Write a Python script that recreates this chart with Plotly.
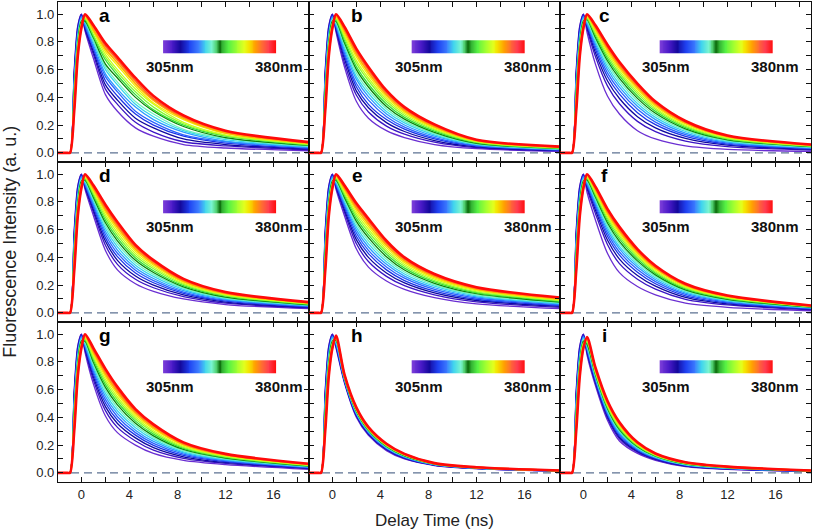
import plotly.graph_objects as go
from plotly.subplots import make_subplots

# ---------------- data ----------------
PANEL_LABELS = ["a", "b", "c", "d", "e", "f", "g", "h", "i"]
WAVELENGTHS = [305, 310, 315, 320, 325, 330, 335, 340, 345, 350, 355, 360, 365, 370, 375, 380]
BAR_LABELS = ["305nm", "380nm"]

# rising edge, shared by all panels (values in %, one entry per wavelength)
RISE_T = [-2.0, -1.15, -0.95, -0.6, -0.3, 0.0]
RISE = [
    [0] * 16,
    [0] * 16,
    [0] * 16,
    [60, 58, 56, 54, 52, 50, 48, 46, 44, 42, 40, 38, 36, 34, 32, 30],
    [92, 91, 89, 88, 86, 85, 83, 82, 80, 79, 77, 76, 74, 73, 71, 70],
    [100, 100, 99, 99, 98, 98, 97, 96, 95, 94, 93, 93, 92, 91, 90, 90],
]

# decay part: one row per delay time, 16 values (305 -> 380 nm), in %
DECAY_T = [0.3, 1, 2, 3, 4.5, 6, 8.5, 12, 19]

PANEL_A = [
    [88, 89, 90, 91, 92, 93, 94, 95, 95, 96, 97, 97, 98, 99, 99, 100],
    [68, 71, 73, 75, 76, 78, 80, 81, 83, 84, 85, 87, 88, 89, 91, 92],
    [42, 46, 49, 52, 55, 57, 60, 62, 64, 67, 69, 71, 73, 75, 77, 79],
    [30, 35, 38, 41, 44, 46, 49, 51, 54, 56, 58, 60, 63, 65, 67, 69],
    [18, 22, 25, 28, 30, 33, 35, 37, 40, 42, 44, 46, 48, 50, 52, 54],
    [12, 15, 18, 20, 22, 24, 26, 28, 30, 31, 33, 35, 36, 38, 39, 41],
    [6, 8, 10, 12, 13, 15, 16, 17, 19, 20, 21, 22, 24, 25, 26, 27],
    [3.5, 5, 6, 7, 8, 8.5, 9.5, 10.5, 11, 12, 12.5, 13, 14, 14.5, 15.5, 16],
    [1.5, 2.2, 2.7, 3.2, 3.7, 4.1, 4.5, 4.9, 5.3, 5.6, 6, 6.3, 6.7, 7, 7.4, 7.7],
]
PANEL_B = [
    [87, 88.5, 89.5, 90.5, 91.5, 92.5, 93, 94, 95, 95.5, 96.5, 97, 98, 98.5, 99.5, 100],
    [62, 65, 68, 70, 72, 74, 76, 78, 79.5, 81, 83, 84.5, 86, 88, 89.5, 91],
    [37, 41.5, 44.5, 47.5, 50, 53, 55, 57.5, 60, 62, 64.5, 66.5, 69, 71, 73, 75],
    [25, 29.5, 32.5, 35, 38, 40.5, 43, 45, 47.5, 49.5, 52, 54, 56, 58, 60, 62],
    [16, 19.3, 21.8, 24, 26.1, 28, 29.9, 31.7, 33.5, 35.3, 37, 38.6, 40.2, 41.9, 43.4, 45],
    [11, 13.5, 15.4, 17.1, 18.6, 20.1, 21.6, 22.9, 24.3, 25.6, 26.9, 28.2, 29.4, 30.6, 31.8, 33],
    [6, 7.7, 8.9, 10, 11, 12, 13, 13.9, 14.8, 15.6, 16.5, 17.3, 18.1, 18.9, 19.7, 20.5],
    [3, 3.7, 4.3, 4.8, 5.3, 5.7, 6.1, 6.5, 6.9, 7.3, 7.7, 8.1, 8.4, 8.8, 9.1, 9.5],
    [1, 1.4, 1.7, 2, 2.2, 2.5, 2.7, 2.9, 3.1, 3.3, 3.5, 3.7, 3.9, 4.1, 4.3, 4.5],
]
PANEL_C = [
    [87, 89.5, 91, 92, 93, 93.5, 94.5, 95, 96, 96.5, 97, 98, 98.5, 99, 99.5, 100],
    [64, 69.5, 72.3, 74.7, 76.7, 78.5, 80.2, 81.7, 83.2, 84.6, 86, 87.2, 88.5, 89.7, 90.9, 92],
    [41, 48.3, 52, 55.1, 57.7, 60.1, 62.3, 64.4, 66.4, 68.2, 70, 71.7, 73.4, 75, 76.5, 78],
    [28, 35.4, 39.2, 42.3, 45, 47.4, 49.6, 51.7, 53.7, 55.6, 57.4, 59.1, 60.8, 62.4, 64, 65.5],
    [16, 22.7, 26.1, 29, 31.4, 33.6, 35.6, 37.5, 39.3, 41, 42.7, 44.2, 45.8, 47.2, 48.6, 50],
    [10, 15.3, 18, 20.3, 22.2, 24, 25.6, 27.1, 28.5, 29.9, 31.2, 32.4, 33.6, 34.8, 35.9, 37],
    [5, 8.5, 10.4, 11.9, 13.1, 14.3, 15.4, 16.4, 17.3, 18.2, 19.1, 19.9, 20.8, 21.5, 22.3, 23],
    [2.5, 4.5, 5.5, 6.3, 7, 7.7, 8.3, 8.8, 9.4, 9.9, 10.3, 10.8, 11.3, 11.7, 12.1, 12.5],
    [1, 2, 2.5, 2.9, 3.3, 3.6, 3.9, 4.2, 4.4, 4.7, 4.9, 5.2, 5.4, 5.6, 5.8, 6],
]
PANEL_D = [
    [89, 90.3, 91.2, 92, 92.8, 93.6, 94.3, 95, 95.7, 96.3, 97, 97.6, 98.2, 98.8, 99.4, 100],
    [70, 72.5, 74.4, 76.1, 77.6, 79.1, 80.6, 81.9, 83.3, 84.6, 85.9, 87.2, 88.4, 89.6, 90.8, 92],
    [45, 48.8, 51.6, 54.1, 56.5, 58.7, 60.8, 62.9, 65, 66.9, 68.9, 70.7, 72.6, 74.4, 76.2, 78],
    [31, 35, 37.9, 40.5, 43, 45.3, 47.6, 49.7, 51.9, 53.9, 55.9, 57.9, 59.8, 61.8, 63.6, 65.5],
    [21, 24.2, 26.6, 28.7, 30.7, 32.6, 34.4, 36.2, 37.9, 39.6, 41.2, 42.8, 44.4, 46, 47.5, 49],
    [15.5, 18.1, 20, 21.7, 23.3, 24.8, 26.3, 27.7, 29.1, 30.4, 31.8, 33.1, 34.3, 35.6, 36.8, 38],
    [10, 11.7, 12.9, 14, 15, 16, 17, 17.9, 18.8, 19.6, 20.5, 21.3, 22.1, 22.9, 23.7, 24.5],
    [6, 7, 7.8, 8.5, 9.1, 9.7, 10.3, 10.9, 11.4, 12, 12.5, 13, 13.5, 14, 14.5, 15],
    [3, 3.5, 3.9, 4.3, 4.6, 5, 5.3, 5.6, 5.8, 6.1, 6.4, 6.7, 6.9, 7.2, 7.4, 7.7],
]
PANEL_E = [
    [89, 90.3, 91.2, 92, 92.8, 93.6, 94.3, 95, 95.7, 96.3, 97, 97.6, 98.2, 98.8, 99.4, 100],
    [70, 72.5, 74.4, 76.1, 77.6, 79.1, 80.6, 81.9, 83.3, 84.6, 85.9, 87.2, 88.4, 89.6, 90.8, 92],
    [46, 49.8, 52.6, 55.1, 57.5, 59.7, 61.8, 63.9, 66, 67.9, 69.9, 71.7, 73.6, 75.4, 77.2, 79],
    [33, 37, 40, 42.7, 45.1, 47.5, 49.8, 52, 54.2, 56.2, 58.3, 60.3, 62.3, 64.2, 66.1, 68],
    [23, 26.3, 28.8, 31, 33.1, 35, 36.9, 38.7, 40.5, 42.3, 44, 45.6, 47.2, 48.9, 50.4, 52],
    [17, 19.6, 21.6, 23.3, 25, 26.5, 28, 29.5, 30.9, 32.3, 33.6, 34.9, 36.2, 37.5, 38.8, 40],
    [11, 13, 14.4, 15.7, 16.9, 18.1, 19.2, 20.2, 21.3, 22.3, 23.3, 24.3, 25.2, 26.2, 27.1, 28],
    [6.5, 7.9, 8.9, 9.8, 10.7, 11.5, 12.3, 13, 13.8, 14.5, 15.2, 15.9, 16.5, 17.2, 17.9, 18.5],
    [3, 3.9, 4.6, 5.2, 5.8, 6.3, 6.8, 7.3, 7.8, 8.3, 8.8, 9.2, 9.7, 10.1, 10.6, 11],
]
PANEL_F = [
    [87, 89.6, 90.9, 92, 92.9, 93.7, 94.5, 95.2, 95.9, 96.6, 97.2, 97.8, 98.4, 98.9, 99.5, 100],
    [67, 71.7, 74.2, 76.1, 77.8, 79.4, 80.8, 82.2, 83.5, 84.7, 85.8, 86.9, 88, 89, 90, 91],
    [43, 49.3, 52.5, 55.2, 57.5, 59.5, 61.5, 63.3, 65, 66.6, 68.1, 69.6, 71, 72.4, 73.7, 75],
    [29, 35.5, 38.8, 41.6, 43.9, 46.1, 48, 49.9, 51.6, 53.3, 54.9, 56.4, 57.9, 59.3, 60.6, 62],
    [19, 24.3, 27, 29.3, 31.2, 33, 34.6, 36.1, 37.5, 38.9, 40.2, 41.4, 42.6, 43.8, 44.9, 46],
    [13, 17.1, 19.3, 21, 22.5, 23.9, 25.1, 26.3, 27.4, 28.5, 29.5, 30.4, 31.4, 32.3, 33.1, 34],
    [7, 9.8, 11.2, 12.3, 13.3, 14.2, 15.1, 15.9, 16.6, 17.3, 18, 18.6, 19.3, 19.9, 20.4, 21],
    [4, 5.7, 6.5, 7.2, 7.8, 8.4, 8.9, 9.4, 9.8, 10.3, 10.7, 11.1, 11.4, 11.8, 12.2, 12.5],
    [1.5, 2.2, 2.6, 2.9, 3.2, 3.5, 3.7, 3.9, 4.1, 4.3, 4.5, 4.7, 4.8, 5, 5.1, 5.3],
]
PANEL_G = [
    [87, 88.5, 89.6, 90.6, 91.5, 92.4, 93.2, 94.1, 94.9, 95.6, 96.4, 97.1, 97.9, 98.6, 99.3, 100],
    [64, 67, 69.2, 71.2, 73, 74.8, 76.5, 78.1, 79.7, 81.3, 82.8, 84.3, 85.7, 87.2, 88.6, 90],
    [41, 44.9, 47.8, 50.4, 52.8, 55.1, 57.3, 59.5, 61.6, 63.6, 65.6, 67.5, 69.4, 71.3, 73.2, 75],
    [29, 32.8, 35.6, 38.1, 40.5, 42.7, 44.8, 46.9, 49, 50.9, 52.9, 54.7, 56.6, 58.4, 60.2, 62],
    [20, 23, 25.2, 27.2, 29, 30.8, 32.5, 34.1, 35.7, 37.3, 38.8, 40.3, 41.7, 43.2, 44.6, 46],
    [14, 16.4, 18.2, 19.8, 21.3, 22.7, 24.1, 25.4, 26.7, 27.9, 29.2, 30.4, 31.6, 32.7, 33.9, 35],
    [9, 10.5, 11.6, 12.6, 13.5, 14.4, 15.2, 16.1, 16.9, 17.6, 18.4, 19.1, 19.9, 20.6, 21.3, 22],
    [6, 6.9, 7.5, 8.1, 8.7, 9.2, 9.7, 10.2, 10.7, 11.1, 11.6, 12, 12.4, 12.9, 13.3, 13.7],
    [2.5, 3, 3.3, 3.6, 3.9, 4.2, 4.4, 4.7, 4.9, 5.2, 5.4, 5.6, 5.8, 6.1, 6.3, 6.5],
]
PANEL_H = [
    [90, 91, 91.8, 92.5, 93.1, 93.7, 94.3, 94.9, 95.4, 96, 96.5, 97, 97.5, 98, 98.5, 99],
    [65, 65.7, 66.2, 66.7, 67.1, 67.5, 67.9, 68.3, 68.6, 69, 69.3, 69.7, 70, 70.4, 70.7, 71],
    [40, 40.8, 41.4, 41.9, 42.4, 42.9, 43.4, 43.8, 44.2, 44.6, 45.1, 45.5, 45.9, 46.2, 46.6, 47],
    [27, 27.7, 28.2, 28.7, 29.1, 29.5, 29.9, 30.3, 30.6, 31, 31.3, 31.7, 32, 32.4, 32.7, 33],
    [16, 16.6, 17, 17.4, 17.7, 18.1, 18.4, 18.7, 19, 19.3, 19.6, 19.9, 20.2, 20.5, 20.7, 21],
    [10, 10.4, 10.7, 11, 11.3, 11.5, 11.8, 12, 12.2, 12.5, 12.7, 12.9, 13.1, 13.3, 13.5, 13.7],
    [5.3, 5.5, 5.6, 5.8, 5.9, 6, 6.1, 6.2, 6.3, 6.4, 6.5, 6.6, 6.7, 6.8, 6.9, 7],
    [3, 3.1, 3.2, 3.3, 3.3, 3.4, 3.5, 3.5, 3.6, 3.7, 3.7, 3.8, 3.8, 3.9, 3.9, 4],
    [1.2, 1.3, 1.3, 1.3, 1.4, 1.4, 1.4, 1.5, 1.5, 1.5, 1.6, 1.6, 1.6, 1.6, 1.7, 1.7],
]
PANEL_I = [
    [85, 86.5, 87.6, 88.6, 89.5, 90.4, 91.2, 92.1, 92.9, 93.6, 94.4, 95.1, 95.9, 96.6, 97.3, 98],
    [63, 64.5, 65.6, 66.6, 67.5, 68.4, 69.2, 70.1, 70.9, 71.6, 72.4, 73.1, 73.9, 74.6, 75.3, 76],
    [38, 39.6, 40.8, 41.9, 42.9, 43.8, 44.7, 45.6, 46.5, 47.3, 48.1, 48.9, 49.7, 50.5, 51.2, 52],
    [23, 24.6, 25.7, 26.7, 27.7, 28.6, 29.5, 30.3, 31.2, 32, 32.8, 33.5, 34.3, 35, 35.8, 36.5],
    [14, 14.9, 15.6, 16.2, 16.8, 17.3, 17.8, 18.3, 18.8, 19.3, 19.8, 20.2, 20.7, 21.1, 21.6, 22],
    [9, 9.6, 10, 10.4, 10.7, 11.1, 11.4, 11.7, 12, 12.3, 12.6, 12.9, 13.2, 13.5, 13.7, 14],
    [4.5, 4.9, 5.1, 5.4, 5.6, 5.8, 6, 6.2, 6.4, 6.6, 6.8, 7, 7.2, 7.4, 7.5, 7.7],
    [2.5, 2.7, 2.9, 3, 3.2, 3.3, 3.5, 3.6, 3.7, 3.8, 4, 4.1, 4.2, 4.3, 4.4, 4.5],
    [1, 1.1, 1.1, 1.2, 1.2, 1.3, 1.3, 1.4, 1.4, 1.5, 1.5, 1.5, 1.6, 1.6, 1.7, 1.7],
]
PANELS = [PANEL_A, PANEL_B, PANEL_C, PANEL_D, PANEL_E, PANEL_F, PANEL_G, PANEL_H, PANEL_I]

X_TICKS = [0, 4, 8, 12, 16]
Y_TICKS = [0.0, 0.2, 0.4, 0.6, 0.8, 1.0]

# ---------------- styles ----------------
CURVE_COLORS = ["#6a2ed2", "#3a14c4", "#10089e", "#1a34e6", "#2a62ff", "#2a9cff",
                "#38d6ec", "#6ef2c0", "#0a840a", "#36dc36", "#86fb30", "#c6ff20",
                "#f2ee00", "#ffb000", "#ff6422", "#ff0a0a"]
BAR_SCALE = [
    [0.00, "#7a3cd8"], [0.08, "#4a1ac8"], [0.15, "#14089c"], [0.23, "#1e40f0"],
    [0.31, "#3c7cff"], [0.37, "#40d4ee"], [0.43, "#78f4d0"], [0.47, "#50d070"],
    [0.50, "#0a6a0a"], [0.53, "#34b434"], [0.58, "#56f044"], [0.66, "#a4ff30"],
    [0.72, "#e2ff1e"], [0.76, "#f4e400"], [0.82, "#ffa000"], [0.88, "#ff6a34"],
    [0.94, "#ff3c50"], [1.00, "#ff1010"],
]
FONT = "Liberation Sans, Arial, sans-serif"
X_RANGE = [-1.95, 18.95]
Y_RANGE = [-0.066, 1.088]
BAR_X = [(6.8, 16.25), (6.6, 16.0), (6.35, 15.75)]
LBL305_X = [7.4, 7.2, 6.9]
LBL380_X = [16.45, 16.3, 15.97]
LETTER_X = [1.94, 2.05, 1.72]

fig = make_subplots(rows=3, cols=3, horizontal_spacing=0, vertical_spacing=0)

N_BAR = 120
for p, (label, panel) in enumerate(zip(PANEL_LABELS, PANELS)):
    row, col = p // 3 + 1, p % 3 + 1
    x0, x1 = BAR_X[col - 1]
    dx = (x1 - x0) / N_BAR
    fig.add_trace(go.Heatmap(z=[list(range(N_BAR))], x0=x0 + dx / 2, dx=dx,
                             y0=0.7635, dy=0.097, colorscale=BAR_SCALE,
                             zmin=0, zmax=N_BAR - 1, showscale=False, hoverinfo="skip"),
                  row=row, col=col)
    fig.add_trace(go.Scatter(x=X_RANGE, y=[0, 0], mode="lines",
                             line=dict(color="#5d7292", width=1.2, dash="8px,5px"),
                             hoverinfo="skip", showlegend=False), row=row, col=col)
    for k in range(len(WAVELENGTHS)):
        ys = [r[k] / 100 for r in RISE] + [r[k] / 100 for r in panel]
        xs = RISE_T + DECAY_T
        w = 2.6 if k == 15 else (1.8 if k >= 13 else 1.3)
        fig.add_trace(go.Scatter(x=xs, y=ys, mode="lines",
                                 line=dict(color=CURVE_COLORS[k], width=w, shape="spline", smoothing=0.8),
                                 name=f"{WAVELENGTHS[k]} nm", showlegend=False),
                      row=row, col=col)
    sfx = "" if p == 0 else str(p + 1)
    fig.add_annotation(x=LETTER_X[col - 1], y=0.99, xref="x" + sfx, yref="y" + sfx,
                       text=f"<b>{label}</b>", showarrow=False,
                       font=dict(family=FONT, size=19, color="black"))
    fig.add_annotation(x=LBL305_X[col - 1], y=0.62, xref="x" + sfx, yref="y" + sfx,
                       text=f"<b>{BAR_LABELS[0]}</b>", showarrow=False,
                       font=dict(family=FONT, size=15, color="#111"))
    fig.add_annotation(x=LBL380_X[col - 1], y=0.62, xref="x" + sfx, yref="y" + sfx,
                       text=f"<b>{BAR_LABELS[1]}</b>", showarrow=False,
                       font=dict(family=FONT, size=15, color="#111"))

axis_common = dict(showline=True, linecolor="#111", linewidth=1.2, mirror="allticks",
                   ticks="inside", ticklen=5, tickwidth=1, tickcolor="#111",
                   showgrid=False, zeroline=False,
                   tickfont=dict(family=FONT, size=13, color="#222"))
for p in range(9):
    row, col = p // 3 + 1, p % 3 + 1
    fig.update_xaxes(range=X_RANGE, tickvals=X_TICKS, showticklabels=(row == 3),
                     minor=dict(dtick=2, tick0=0, ticks="inside", ticklen=5, tickcolor="#111"),
                     row=row, col=col, **axis_common)
    fig.update_yaxes(range=Y_RANGE, tickvals=Y_TICKS, tickformat=".1f", showticklabels=(col == 1),
                     minor=dict(dtick=0.1, tick0=0, ticks="inside", ticklen=5, tickcolor="#111"),
                     row=row, col=col, **axis_common)

fig.add_annotation(xref="paper", yref="paper", x=-0.064, y=0.5, textangle=-90,
                   xanchor="center", yanchor="middle",
                   text="Fluorescence Intensity (a. u.)", showarrow=False,
                   font=dict(family=FONT, size=18, color="#222"))
fig.add_annotation(xref="paper", yref="paper", x=0.5, y=-0.081, xanchor="center", yanchor="middle",
                   text="Delay Time (ns)", showarrow=False,
                   font=dict(family=FONT, size=17, color="#222"))

fig.update_layout(width=813, height=532, margin=dict(l=58, r=2, t=2, b=50),
                  plot_bgcolor="white", paper_bgcolor="white", showlegend=False)
fig.write_html("out.html", config={"displayModeBar": False},
               post_script="document.body.style.margin='0';document.body.style.overflow='hidden';")
